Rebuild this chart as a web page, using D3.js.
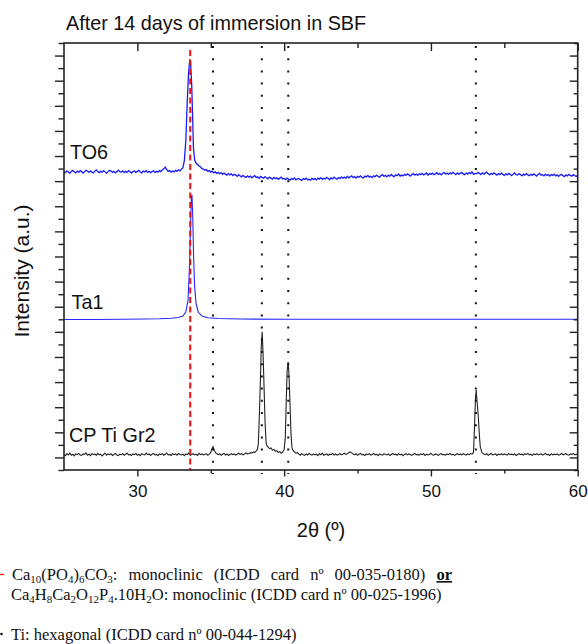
<!DOCTYPE html>
<html><head><meta charset="utf-8">
<script src="https://cdn.jsdelivr.net/npm/d3@7"></script>
<style>
html,body{margin:0;padding:0;background:#fff;}
svg{display:block;}
</style></head>
<body>
<svg id="chart" width="588" height="644"></svg>
<script>
// ---------------- DATA ----------------
const title = "After 14 days of immersion in SBF";
const xLabel = "2θ (º)";
const yLabel = "Intensity (a.u.)";
const xDomain = [25, 60];
const yDomain = [-50, 1650];
const xMajorTicks = [30, 40, 50, 60];
const xMinorTicks = [35, 45, 55];
const yMajorTicks = [0,100,200,300,400,500,600,700,800,900,1000,1100,1200,1300,1400,1500,1600];
const yMinorTicks = [-50,50,150,250,350,450,550,650,750,850,950,1050,1150,1250,1350,1450,1550,1650];
const seriesNames = ["TO6", "Ta1", "CP Ti Gr2"];
const refRed = [33.6];                       // Ca phosphate reference (red dashed)
const refTi = [35.15, 38.48, 40.28, 53.06];  // Ti hexagonal references (black dotted)

const to6 = [
[25.0,1138],[25.1,1134],[25.2,1141],[25.3,1136],[25.4,1131],[25.5,1139],[25.6,1143],[25.7,1137],[25.8,1133],[25.9,1140],
[26.0,1135],[26.1,1142],[26.2,1138],[26.3,1132],[26.4,1137],[26.5,1144],[26.6,1139],[26.7,1135],[26.8,1141],[26.9,1136],
[27.0,1133],[27.1,1140],[27.2,1145],[27.3,1138],[27.4,1134],[27.5,1139],[27.6,1136],[27.7,1142],[27.8,1137],[27.9,1131],
[28.0,1138],[28.1,1143],[28.2,1140],[28.3,1135],[28.4,1139],[28.5,1133],[28.6,1137],[28.7,1144],[28.8,1138],[28.9,1136],
[29.0,1141],[29.1,1134],[29.2,1139],[29.3,1135],[29.4,1142],[29.5,1137],[29.6,1132],[29.7,1138],[29.8,1140],[29.9,1135],
[30.0,1139],[30.1,1143],[30.2,1136],[30.3,1133],[30.4,1140],[30.5,1137],[30.6,1142],[30.7,1135],[30.8,1139],[30.9,1134],
[31.0,1138],[31.1,1141],[31.2,1135],[31.3,1139],[31.4,1136],[31.5,1142],[31.6,1138],[31.7,1144],[31.8,1149],[31.9,1156],
[32.0,1146],[32.1,1139],[32.2,1142],[32.3,1136],[32.4,1140],[32.5,1137],[32.6,1143],[32.7,1139],[32.8,1145],[32.9,1141],
[33.0,1148],[33.1,1153],[33.2,1182],[33.3,1262],[33.4,1420],[33.48,1522],[33.56,1580],[33.62,1574],[33.7,1488],[33.76,1360],
[33.82,1232],[33.9,1186],[34.0,1171],[34.1,1166],[34.2,1160],[34.3,1157],[34.4,1150],[34.5,1148],[34.6,1143],[34.7,1146],
[34.8,1139],[34.9,1142],[35.0,1136],[35.1,1140],[35.2,1133],[35.3,1137],[35.4,1131],[35.5,1135],[35.6,1129],[35.7,1134],
[35.8,1127],[35.9,1132],[36.0,1128],[36.1,1124],[36.2,1130],[36.3,1125],[36.4,1129],[36.5,1122],[36.6,1127],[36.7,1124],
[36.8,1119],[36.9,1126],[37.0,1121],[37.1,1117],[37.2,1123],[37.3,1118],[37.4,1115],[37.5,1121],[37.6,1116],[37.7,1120],
[37.8,1113],[37.9,1118],[38.0,1122],[38.1,1114],[38.2,1117],[38.3,1111],[38.4,1119],[38.5,1115],[38.6,1112],[38.7,1118],
[38.8,1113],[38.9,1109],[39.0,1116],[39.1,1112],[39.2,1108],[39.3,1115],[39.4,1110],[39.5,1113],[39.6,1107],[39.7,1112],
[39.8,1116],[39.9,1109],[40.0,1111],[40.1,1106],[40.2,1112],[40.3,1108],[40.4,1104],[40.5,1110],[40.6,1107],[40.7,1113],
[40.8,1105],[40.9,1109],[41.0,1111],[41.1,1106],[41.2,1103],[41.3,1110],[41.4,1107],[41.5,1112],[41.6,1105],[41.7,1108],
[41.8,1104],[41.9,1111],[42.0,1107],[42.1,1110],[42.2,1105],[42.3,1112],[42.4,1108],[42.5,1114],[42.6,1107],[42.7,1111],
[42.8,1109],[42.9,1115],[43.0,1110],[43.1,1106],[43.2,1113],[43.3,1109],[43.4,1116],[43.5,1111],[43.6,1108],[43.7,1114],
[43.8,1110],[43.9,1117],[44.0,1112],[44.1,1116],[44.2,1111],[44.3,1119],[44.4,1113],[44.5,1117],[44.6,1121],[44.7,1114],
[44.8,1118],[44.9,1112],[45.0,1119],[45.1,1116],[45.2,1121],[45.3,1115],[45.4,1113],[45.5,1120],[45.6,1117],[45.7,1123],
[45.8,1116],[45.9,1119],[46.0,1114],[46.1,1121],[46.2,1118],[46.3,1124],[46.4,1119],[46.5,1116],[46.6,1122],[46.7,1126],
[46.8,1119],[46.9,1123],[47.0,1117],[47.1,1124],[47.2,1120],[47.3,1127],[47.4,1121],[47.5,1118],[47.6,1125],[47.7,1122],
[47.8,1128],[47.9,1120],[48.0,1124],[48.1,1121],[48.2,1127],[48.3,1123],[48.4,1129],[48.5,1125],[48.6,1120],[48.7,1126],
[48.8,1130],[48.9,1124],[49.0,1128],[49.1,1123],[49.2,1129],[49.3,1126],[49.4,1131],[49.5,1125],[49.6,1128],[49.7,1133],
[49.8,1124],[49.9,1130],[50.0,1127],[50.1,1132],[50.2,1126],[50.3,1129],[50.4,1134],[50.5,1127],[50.6,1131],[50.7,1125],
[50.8,1130],[50.9,1135],[51.0,1128],[51.1,1132],[51.2,1127],[51.3,1133],[51.4,1129],[51.5,1136],[51.6,1130],[51.7,1126],
[51.8,1133],[51.9,1128],[52.0,1131],[52.1,1135],[52.2,1129],[52.3,1126],[52.4,1132],[52.5,1128],[52.6,1134],[52.7,1130],
[52.8,1137],[52.9,1127],[53.0,1131],[53.1,1129],[53.2,1135],[53.3,1131],[53.4,1126],[53.5,1133],[53.6,1128],[53.7,1132],
[53.8,1136],[53.9,1129],[54.0,1125],[54.1,1131],[54.2,1127],[54.3,1133],[54.4,1128],[54.5,1124],[54.6,1130],[54.7,1126],
[54.8,1132],[54.9,1127],[55.0,1123],[55.1,1129],[55.2,1125],[55.3,1131],[55.4,1127],[55.5,1122],[55.6,1128],[55.7,1133],
[55.8,1126],[55.9,1124],[56.0,1130],[56.1,1126],[56.2,1121],[56.3,1128],[56.4,1124],[56.5,1130],[56.6,1125],[56.7,1122],
[56.8,1127],[56.9,1123],[57.0,1129],[57.1,1125],[57.2,1120],[57.3,1127],[57.4,1131],[57.5,1124],[57.6,1126],[57.7,1121],
[57.8,1128],[57.9,1123],[58.0,1126],[58.1,1120],[58.2,1126],[58.3,1123],[58.4,1128],[58.5,1121],[58.6,1125],[58.7,1119],
[58.8,1124],[58.9,1127],[59.0,1122],[59.1,1118],[59.2,1125],[59.3,1121],[59.4,1127],[59.5,1123],[59.6,1120],[59.7,1126],
[59.8,1122],[59.9,1119],[60.0,1124]];

const ta1 = [[25.00,549],[27.00,549],[29.00,550],[30.50,551],[31.50,552],[32.30,554],[32.80,557],[33.10,563],[33.30,580],[33.45,625],[33.55,760],[33.62,920],[33.68,1040],[33.72,1045],[33.77,960],[33.83,800],[33.90,680],[34.00,612],[34.15,578],[34.40,563],[34.80,556],[35.50,553],[37.00,551],[40.00,550],[45.00,550],[50.00,550],[55.00,550],[60.00,550]];

const cpTi = [
[25.0,12],[25.1,7],[25.2,15],[25.3,10],[25.4,17],[25.5,9],[25.6,13],[25.7,6],[25.8,14],[25.9,11],
[26.0,16],[26.1,10],[26.2,8],[26.3,14],[26.4,12],[26.5,18],[26.6,9],[26.7,13],[26.8,7],[26.9,15],
[27.0,11],[27.1,14],[27.2,8],[27.3,16],[27.4,10],[27.5,13],[27.6,6],[27.7,12],[27.8,17],[27.9,9],
[28.0,14],[28.1,11],[28.2,15],[28.3,8],[28.4,12],[28.5,16],[28.6,10],[28.7,7],[28.8,13],[28.9,11],
[29.0,15],[29.1,9],[29.2,13],[29.3,17],[29.4,10],[29.5,12],[29.6,8],[29.7,14],[29.8,11],[29.9,16],
[30.0,9],[30.1,13],[30.2,7],[30.3,15],[30.4,12],[30.5,10],[30.6,17],[30.7,11],[30.8,14],[30.9,8],
[31.0,13],[31.1,16],[31.2,10],[31.3,12],[31.4,7],[31.5,14],[31.6,11],[31.7,15],[31.8,9],[31.9,13],
[32.0,17],[32.1,10],[32.2,12],[32.3,8],[32.4,15],[32.5,11],[32.6,14],[32.7,9],[32.8,16],[32.9,12],
[33.0,10],[33.1,13],[33.2,7],[33.3,14],[33.4,11],[33.5,17],[33.6,9],[33.7,12],[33.8,15],[33.9,10],
[34.0,13],[34.1,8],[34.2,16],[34.3,11],[34.4,14],[34.5,10],[34.6,12],[34.7,15],[34.8,9],[34.9,13],
[35.0,20],[35.05,30],[35.15,43],[35.25,28],[35.35,17],[35.5,11],[35.6,15],[35.7,9],[35.8,13],[35.9,16],
[36.0,10],[36.1,14],[36.2,8],[36.3,12],[36.4,15],[36.5,11],[36.6,14],[36.7,9],[36.8,13],[36.9,17],
[37.0,12],[37.1,15],[37.2,10],[37.3,14],[37.4,18],[37.5,13],[37.6,16],[37.7,19],[37.8,17],[37.9,22],
[38.0,20],[38.1,26],[38.18,32],[38.24,55],[38.3,150],[38.38,300],[38.44,440],[38.5,500],[38.56,420],[38.63,280],
[38.7,140],[38.77,58],[38.83,46],[38.9,42],[39.0,35],[39.1,38],[39.2,29],[39.3,32],[39.4,24],[39.5,27],
[39.6,20],[39.7,23],[39.8,17],[39.9,21],[40.0,32],[40.08,80],[40.14,220],[40.2,340],[40.27,381],[40.33,330],
[40.4,210],[40.47,90],[40.53,40],[40.6,28],[40.7,22],[40.8,17],[40.9,19],
[41.0,13],[41.1,9],[41.2,15],[41.3,11],[41.4,8],[41.5,14],[41.6,10],[41.7,16],[41.8,12],[41.9,9],
[42.0,14],[42.1,10],[42.2,13],[42.3,7],[42.4,15],[42.5,11],[42.6,17],[42.7,9],[42.8,12],[42.9,14],
[43.0,8],[43.1,13],[43.2,11],[43.3,16],[43.4,10],[43.5,14],[43.6,9],[43.7,12],[43.8,15],[43.9,11],
[44.0,13],[44.1,17],[44.2,12],[44.3,15],[44.4,19],[44.5,22],[44.6,18],[44.7,14],[44.8,11],[44.9,15],
[45.0,9],[45.1,13],[45.2,16],[45.3,10],[45.4,12],[45.5,8],[45.6,14],[45.7,11],[45.8,15],[45.9,9],
[46.0,12],[46.1,16],[46.2,10],[46.3,13],[46.4,7],[46.5,14],[46.6,11],[46.7,9],[46.8,15],[46.9,12],
[47.0,10],[47.1,14],[47.2,8],[47.3,12],[47.4,16],[47.5,11],[47.6,13],[47.7,9],[47.8,15],[47.9,10],
[48.0,13],[48.1,7],[48.2,12],[48.3,15],[48.4,10],[48.5,14],[48.6,11],[48.7,8],[48.8,13],[48.9,16],
[49.0,10],[49.1,12],[49.2,9],[49.3,14],[49.4,11],[49.5,15],[49.6,8],[49.7,13],[49.8,10],[49.9,12],
[50.0,16],[50.1,11],[50.2,9],[50.3,14],[50.4,12],[50.5,8],[50.6,13],[50.7,15],[50.8,10],[50.9,12],
[51.0,9],[51.1,14],[51.2,11],[51.3,16],[51.4,10],[51.5,13],[51.6,8],[51.7,12],[51.8,15],[51.9,11],
[52.0,13],[52.1,10],[52.2,15],[52.3,12],[52.4,9],[52.5,14],[52.6,11],[52.7,16],[52.8,13],
[52.9,20],[52.97,120],[53.03,230],[53.08,268],[53.15,220],[53.23,160],[53.3,90],[53.36,43],[53.45,24],
[53.5,18],[53.6,14],[53.7,11],[53.8,15],[53.9,9],[54.0,13],[54.1,16],[54.2,10],[54.3,12],[54.4,14],
[54.5,8],[54.6,13],[54.7,11],[54.8,15],[54.9,10],[55.0,14],[55.1,12],[55.2,9],[55.3,16],[55.4,11],
[55.5,13],[55.6,10],[55.7,14],[55.8,8],[55.9,12],[56.0,15],[56.1,11],[56.2,13],[56.3,9],[56.4,14],
[56.5,12],[56.6,16],[56.7,10],[56.8,13],[56.9,8],[57.0,14],[57.1,11],[57.2,15],[57.3,10],[57.4,12],
[57.5,14],[57.6,9],[57.7,13],[57.8,16],[57.9,11],[58.0,12],[58.1,8],[58.2,15],[58.3,10],[58.4,13],
[58.5,11],[58.6,14],[58.7,9],[58.8,12],[58.9,16],[59.0,10],[59.1,13],[59.2,15],[59.3,11],[59.4,9],
[59.5,14],[59.6,12],[59.7,16],[59.8,10],[59.9,13],[60.0,11]];

// ---------------- LAYOUT ----------------
const L = 64, R = 577.7, T = 43, B = 470;
const sansFont = "'Liberation Sans', Arial, Helvetica, sans-serif";
const serifFont = "'Liberation Serif', 'Times New Roman', serif";

const svg = d3.select("#chart");
const x = d3.scaleLinear().domain(xDomain).range([L, R]);
const y = d3.scaleLinear().domain(yDomain).range([B, T]);

const line = d3.line().x(d => x(d[0])).y(d => y(d[1]));

// traces
svg.append("path").datum(cpTi).attr("d", line)
  .attr("fill", "none").attr("stroke", "#222").attr("stroke-width", 1.1);
svg.append("path").datum(ta1).attr("d", line)
  .attr("fill", "none").attr("stroke", "#2626ff").attr("stroke-width", 1.1);
svg.append("path").datum(to6).attr("d", line)
  .attr("fill", "none").attr("stroke", "#1a1aff").attr("stroke-width", 1.3);

// reference lines
svg.selectAll(".refTi").data(refTi).enter().append("line")
  .attr("x1", d => x(d)).attr("x2", d => x(d))
  .attr("y1", 46).attr("y2", 474)
  .attr("stroke", "#111").attr("stroke-width", 2)
  .attr("stroke-dasharray", "2,10.2");
svg.selectAll(".refRed").data(refRed).enter().append("line")
  .attr("x1", d => x(d)).attr("x2", d => x(d))
  .attr("y1", 50).attr("y2", 470)
  .attr("stroke", "#ee1111").attr("stroke-width", 2)
  .attr("stroke-dasharray", "6,3.5");

// axes
function styleAxis(g) {
  g.select(".domain").remove();
  g.selectAll(".tick line").attr("stroke", "#222").attr("stroke-width", 1.4);
}
svg.append("g").attr("transform", `translate(0,${B})`)
  .call(d3.axisBottom(x).tickValues(xMajorTicks).tickSize(6.5).tickFormat(d3.format("d")))
  .call(styleAxis)
  .call(g => g.selectAll("text").attr("y", 27).attr("dy", 0)
      .attr("font-family", sansFont).attr("font-size", 17).attr("fill", "#111"));
svg.append("g").attr("transform", `translate(0,${B})`)
  .call(d3.axisBottom(x).tickValues(xMinorTicks).tickSize(3.5).tickFormat(""))
  .call(styleAxis);
svg.append("g").attr("transform", `translate(0,${T})`)
  .call(d3.axisTop(x).tickValues(xMajorTicks).tickSize(-8).tickFormat(""))
  .call(styleAxis);
svg.append("g").attr("transform", `translate(0,${T})`)
  .call(d3.axisTop(x).tickValues(xMinorTicks).tickSize(-5).tickFormat(""))
  .call(styleAxis);
svg.append("g").attr("transform", `translate(${L},0)`)
  .call(d3.axisLeft(y).tickValues(yMajorTicks).tickSize(9).tickFormat(""))
  .call(styleAxis);
svg.append("g").attr("transform", `translate(${L},0)`)
  .call(d3.axisLeft(y).tickValues(yMinorTicks).tickSize(5.5).tickFormat(""))
  .call(styleAxis);
svg.append("g").attr("transform", `translate(${R},0)`)
  .call(d3.axisRight(y).tickValues(yMajorTicks).tickSize(-8).tickFormat(""))
  .call(styleAxis);
svg.append("g").attr("transform", `translate(${R},0)`)
  .call(d3.axisRight(y).tickValues(yMinorTicks).tickSize(-4).tickFormat(""))
  .call(styleAxis);

// frame
svg.append("rect").attr("x", L).attr("y", T).attr("width", R - L).attr("height", B - T)
  .attr("fill", "none").attr("stroke", "#222").attr("stroke-width", 1.6);

// title & axis titles
svg.append("text").attr("x", 66).attr("y", 29.5)
  .attr("font-family", sansFont).attr("font-size", 19.8).attr("fill", "#111").text(title);
svg.append("text").attr("x", 321).attr("y", 537).attr("text-anchor", "middle")
  .attr("font-family", sansFont).attr("font-size", 20).attr("fill", "#111").text(xLabel);
svg.append("text").attr("transform", "translate(29,271) rotate(-90)").attr("text-anchor", "middle")
  .attr("font-family", sansFont).attr("font-size", 21).attr("fill", "#111").text(yLabel);

// series labels
const labelPos = [[70, 159], [71.5, 308.5], [69, 442]];
seriesNames.forEach((n, i) => {
  svg.append("text").attr("x", labelPos[i][0]).attr("y", labelPos[i][1])
    .attr("font-family", sansFont).attr("font-size", 19.8).attr("fill", "#111").text(n);
});

// legend (below)
function richText(xp, yp, parts) {
  const t = svg.append("text").attr("x", xp).attr("y", yp)
    .attr("font-family", serifFont).attr("font-size", 16.5).attr("fill", "#111");
  let inSub = false;
  parts.forEach(p => {
    if (p.sub !== undefined) {
      t.append("tspan").text(p.sub).attr("font-size", 11).attr("dy", inSub ? 0 : 3);
      inSub = true;
    } else {
      const s = t.append("tspan").text(p.t);
      if (inSub) s.attr("dy", -3);
      if (p.bold) s.attr("font-weight", "bold").attr("text-decoration", "underline");
      inSub = false;
    }
  });
  return t;
}
svg.append("line").attr("x1", 0).attr("x2", 4).attr("y1", 574.5).attr("y2", 574.5)
  .attr("stroke", "#ee1111").attr("stroke-width", 1.3);
const leg1 = richText(12, 580, [{t:"Ca"},{sub:"10"},{t:"(PO"},{sub:"4"},{t:")"},{sub:"6"},{t:"CO"},{sub:"3"},
  {t:": monoclinic (ICDD card nº 00-035-0180) "},{t:"or", bold:true}]);
// justified first line: stretch the word gaps to the paragraph width
const w1 = leg1.node().getComputedTextLength();
leg1.attr("word-spacing", Math.max(0, (452 - 12 - w1) / 6));
richText(11, 600, [{t:"Ca"},{sub:"4"},{t:"H"},{sub:"8"},{t:"Ca"},{sub:"2"},{t:"O"},{sub:"12"},{t:"P"},{sub:"4"},
  {t:".10H"},{sub:"2"},{t:"O: monoclinic (ICDD card nº 00-025-1996)"}]);
svg.append("circle").attr("cx", 1.5).attr("cy", 634).attr("r", 1.3).attr("fill", "#111");
richText(11, 640, [{t:"Ti: hexagonal (ICDD card nº 00-044-1294)"}]);
</script>
</body></html>
